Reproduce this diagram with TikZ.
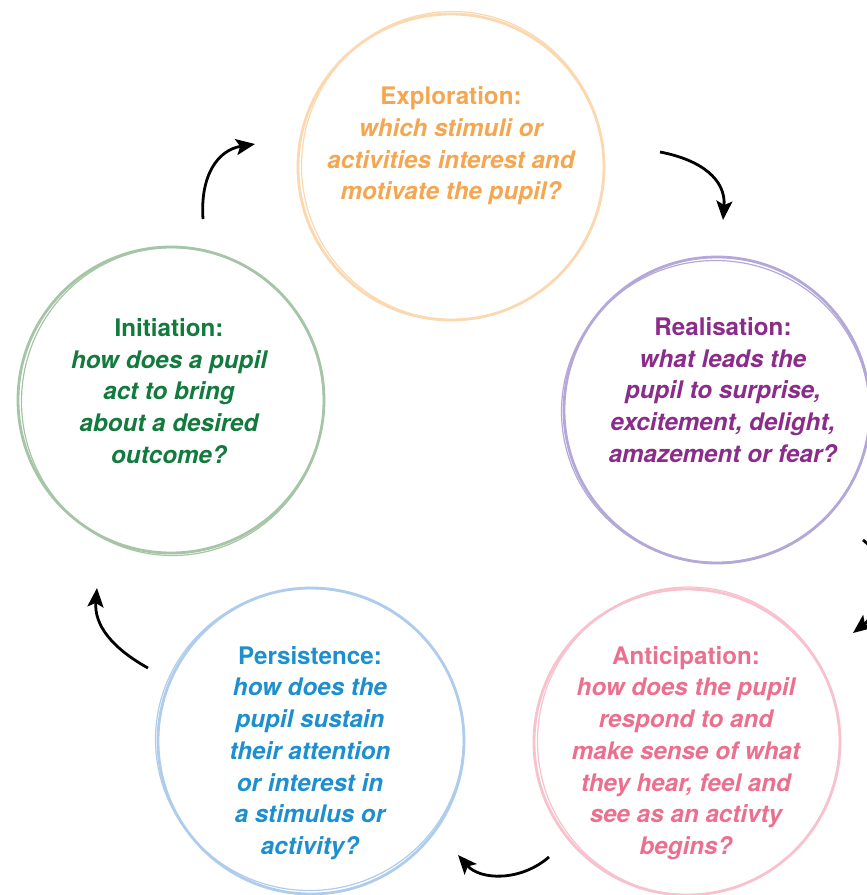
\documentclass[tikz,border=0pt]{standalone}
\usepackage{fontspec}
\setmainfont{TeX Gyre Heros}
\usetikzlibrary{arrows.meta}
\definecolor{expc}{HTML}{FBD8B0}
\definecolor{expt}{HTML}{F4A650}
\definecolor{realc}{HTML}{B4A8D8}
\definecolor{realt}{HTML}{8B2C8A}
\definecolor{inic}{HTML}{A6C5A6}
\definecolor{init}{HTML}{137A3E}
\definecolor{perc}{HTML}{B0CCEC}
\definecolor{pert}{HTML}{1E8FCE}
\definecolor{antc}{HTML}{F7C2CE}
\definecolor{antt}{HTML}{EB7090}
\begin{document}
\begin{tikzpicture}[x=1pt,y=-1pt,
 bubble/.style={circle, inner sep=0pt, minimum size=306pt, line width=2.8pt},
 sketch/.style={line width=1.2pt},
 lbl/.style={align=center, font=\fontsize{24.2}{31.7}\selectfont\bfseries},
 flow/.style={line width=2.8pt, -{Stealth[length=19pt,width=16pt,inset=4pt]}}]
\useasboundingbox (0,0) rectangle (867,895);
% circles
\node[bubble, draw=expc] (exp) at (451,167) {};
\node[bubble, draw=realc] (real) at (717,410) {};
\node[bubble, draw=inic] (ini) at (171,400) {};
\node[bubble, draw=perc] (per) at (311,741) {};
\node[bubble, draw=antc] (ant) at (687,742) {};
% sketchy second strokes
\draw[sketch, expc] (exp.center) ++(1.5,-1.5) circle[x radius=151pt, y radius=154pt];
\draw[sketch, realc] (real.center) ++(-1.5,1.5) circle[x radius=154pt, y radius=151pt];
\draw[sketch, inic] (ini.center) ++(1.5,1.5) circle[x radius=151pt, y radius=154pt];
\draw[sketch, perc] (per.center) ++(-1.5,-1.5) circle[x radius=154pt, y radius=151pt];
\draw[sketch, antc] (ant.center) ++(1.5,-1) circle[x radius=151pt, y radius=154pt];
% texts
\node[lbl, text=expt] (expT) at (451,146) {Exploration:\\ \itshape which stimuli or\\ \itshape activities interest and\\ \itshape motivate the pupil?};
\node[lbl, text=realt] (realT) at (723,390) {Realisation:\\ \itshape what leads the\\ \itshape pupil to surprise,\\ \itshape excitement, delight,\\ \itshape amazement or fear?};
\node[lbl, text=init] (iniT) at (169,391) {Initiation:\\ \itshape how does a pupil\\ \itshape act to bring\\ \itshape about a desired\\ \itshape outcome?};
\node[lbl, text=pert] (perT) at (310,753) {Persistence:\\ \itshape how does the\\ \itshape pupil sustain\\ \itshape their attention\\ \itshape or interest in\\ \itshape a stimulus or\\ \itshape activity?};
\node[lbl, text=antt] (antT) at (686,753) {Anticipation:\\ \itshape how does the pupil\\ \itshape respond to and\\ \itshape make sense of what\\ \itshape they hear, feel and\\ \itshape see as an activty\\ \itshape begins?};
% connector ends
\coordinate (a1s) at (203,219);
\coordinate (a1e) at (255,144);
\coordinate (a2s) at (660,152);
\coordinate (a2e) at (723,220);
\coordinate (a3s) at (863,540);
\coordinate (a3e) at (853,633);
\coordinate (a4s) at (549,857);
\coordinate (a4e) at (458,855);
\coordinate (a5s) at (148,668);
\coordinate (a5e) at (97,588);
% arrows
\draw[flow] (a1s) .. controls (200,175) and (218,150) .. (a1e);
\draw[flow] (a2s) .. controls (702,160) and (726,180) .. (a2e);
\draw[flow] (a3s) .. controls (890,560) and (880,612) .. (a3e);
\draw[flow] (a4s) .. controls (520,882) and (480,880) .. (a4e);
\draw[flow] (a5s) .. controls (112,648) and (94,625) .. (a5e);
\end{tikzpicture}
\end{document}
